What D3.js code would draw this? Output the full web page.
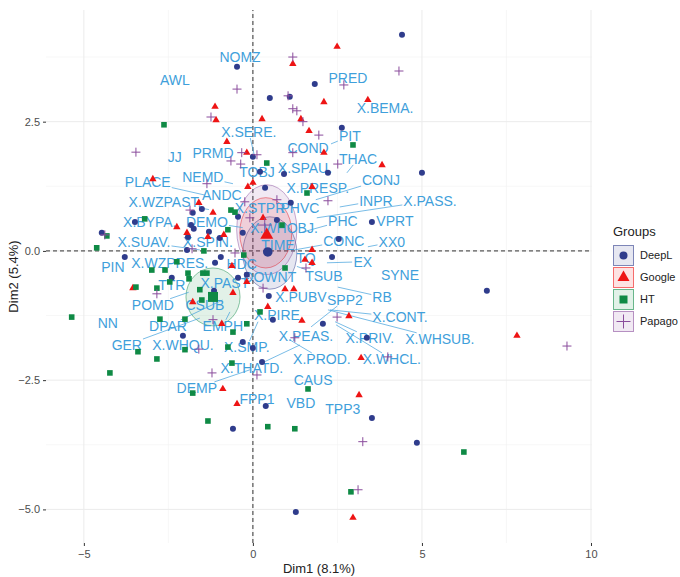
<!DOCTYPE html>
<html>
<head>
<meta charset="utf-8">
<script src="https://cdn.jsdelivr.net/npm/d3@7"></script>
<style>
body { margin: 0; background: #fff; }
text { font-family: "Liberation Sans", Arial, sans-serif; }
</style>
</head>
<body>
<div id="chart"></div>
<script>
// groups and their colours
var groups = ["DeepL", "Google", "HT", "Papago"];
var groupColors = ["#2f3c8c", "#ee1414", "#0f8a45", "#8a4c9c"];

// individuals (Dim1, Dim2)
var deeplPoints = [
  [-0.47, 3.56], [0.50, 2.96], [1.09, 2.98], [4.41, 4.18], [1.83, 3.23], [2.63, 2.38],
  [0.00, 1.82], [0.21, 1.53], [0.92, 1.49], [2.22, 1.51], [5.00, 1.51], [0.36, 1.22],
  [1.12, 0.93], [3.52, 0.56], [2.54, 0.23], [2.34, -0.12], [-1.78, 0.74], [-1.51, 0.81],
  [-3.49, 0.56], [-1.83, 0.50], [-1.75, 0.43], [-1.30, 0.37], [-4.47, 0.35], [-1.92, 0.27],
  [-0.98, 0.25], [-0.95, -0.12], [-3.79, -0.12], [-1.12, -0.23], [-0.44, -0.52], [-0.18, -0.46],
  [-2.40, -0.52], [-1.15, -0.77], [0.47, -0.87], [0.59, -1.33], [-2.07, -1.64], [-0.30, -1.76],
  [0.00, -1.88], [0.27, -2.15], [0.38, -3.00], [-0.59, -3.44], [1.27, -5.05], [3.37, -1.68],
  [3.52, -3.23], [4.85, -3.71], [6.92, -0.77], [2.07, -1.41], [-0.44, 0.66], [-0.30, 0.35],
  [0.71, 0.60], [-1.95, 0.02]
];
var googlePoints = [
  [1.18, 3.62], [2.49, 3.95], [-1.12, 2.79], [-1.09, 2.53], [0.27, 2.55], [1.42, 2.55],
  [2.10, 2.88], [3.40, 2.92], [1.66, 2.32], [-0.77, 2.11], [-0.18, 1.90], [2.10, 1.90],
  [3.82, 1.66], [-2.96, 1.39], [-0.15, 1.24], [0.00, 1.32], [1.75, 1.24], [-1.60, 0.93],
  [-1.18, 0.74], [-2.25, 0.46], [-0.86, 0.31], [-1.33, 0.27], [-1.95, 0.35], [0.30, 0.64],
  [1.75, 0.02], [1.54, -0.17], [1.75, -0.23], [-0.62, -0.29], [-0.18, -0.60], [0.95, -0.74],
  [1.21, -0.74], [-3.55, -0.72], [-0.59, -0.81], [-1.78, -0.99], [0.44, -1.08], [-0.92, -1.41],
  [1.45, -1.35], [2.84, -1.26], [7.81, -1.64], [3.20, -2.07], [-0.89, -2.67], [-0.47, -2.96],
  [3.14, -2.79], [2.96, -5.16]
];
var htPoints = [
  [-2.63, 2.44], [0.41, 1.70], [2.96, 2.05], [1.60, 1.12], [-0.65, 0.79], [-0.53, 0.75],
  [-3.20, 0.62], [-4.32, 0.29], [-0.74, 0.41], [-4.62, 0.06], [-1.45, 0.00], [-0.27, -0.08],
  [-2.25, -0.21], [-2.99, -0.37], [-2.60, -0.37], [-1.92, -0.43], [-1.48, -0.43], [-1.36, -0.43],
  [0.95, -0.33], [-2.46, -0.60], [-1.89, -0.54], [-3.46, -0.70], [-2.84, -0.72], [-1.57, -0.75],
  [-1.51, -0.95], [-5.36, -1.28], [-2.75, -1.32], [-2.01, -1.32], [0.21, -1.18], [-0.18, -1.41],
  [-0.59, -1.57], [-3.40, -1.95], [-2.01, -1.91], [-0.74, -1.86], [-2.84, -2.09], [-4.23, -2.36],
  [-0.62, -2.17], [-1.78, -2.75], [1.63, -2.67], [-1.33, -3.29], [0.44, -3.40], [1.24, -3.44],
  [2.90, -4.66], [6.24, -3.89], [0.86, 0.50]
];
var papagoPoints = [
  [1.18, 3.75], [-0.47, 3.13], [1.04, 3.00], [4.32, 3.48], [2.69, 3.21], [-1.24, 2.59],
  [1.18, 2.75], [1.30, 2.71], [1.48, 2.50], [1.95, 2.24], [-3.46, 1.91], [-0.33, 1.90],
  [0.12, 1.86], [-0.65, 1.74], [-0.36, 1.68], [1.18, 1.90], [2.51, 1.68], [-1.36, 1.30],
  [2.22, 0.97], [-1.86, 0.79], [-0.24, 0.95], [0.71, 0.99], [-0.09, 0.64], [-4.38, 0.31],
  [-1.80, 0.04], [-0.53, -0.04], [1.57, -0.33], [0.30, -0.72], [-2.84, -0.83], [-1.18, -1.33],
  [2.49, -1.28], [1.24, -1.68], [-1.60, -1.90], [-1.21, -2.36], [0.12, -2.40], [3.99, -2.05],
  [9.29, -1.84], [3.25, -3.69], [3.11, -4.62]
];

// group centres and confidence ellipses: [cx, cy, rx, ry]
var groupMeans = [[0.44, -0.02], [0.41, 0.31], [-1.18, -0.89], [0.35, 0.50]];
var groupEllipses = [
  [0.50, -0.04, 0.80, 0.70],
  [0.38, 0.35, 0.77, 0.68],
  [-1.18, -0.89, 0.80, 0.56],
  [0.41, 0.41, 0.89, 0.87]
];

// variable labels: name, label x, label y, (point x, point y for the connector)
var varLabels = [
  ["NOMZ", -0.38, 3.75], ["AWL", -2.31, 3.31], ["PRED", 2.81, 3.35], ["X.BEMA.", 3.91, 2.77],
  ["X.SERE.", -0.12, 2.30, 0.06, 1.80], ["PIT", 2.87, 2.22, 2.31, 2.07], ["COND", 1.63, 1.99],
  ["PRMD", -1.18, 1.90], ["JJ", -2.31, 1.82], ["THAC", 3.11, 1.78, 2.78, 1.51],
  ["X.SPAU.", 1.54, 1.61], ["TOBJ", 0.12, 1.53], ["NEMD", -1.48, 1.43, -0.59, 1.30],
  ["PLACE", -3.11, 1.33, -1.42, 1.08], ["CONJ", 3.79, 1.37, 1.86, 0.99], ["X.PRESP.", 1.92, 1.22],
  ["ANDC", -0.92, 1.08], ["X.WZPAST.", -2.60, 0.95, -1.30, 0.80], ["INPR", 3.64, 0.97, 2.57, 0.85],
  ["X.PASS.", 5.24, 0.97, 1.89, 0.64], ["X.STPR", 0.21, 0.83], ["PHVC", 1.39, 0.83],
  ["X.BYPA.", -3.05, 0.56], ["DEMO", -1.36, 0.56, -0.30, 0.45], ["PHC", 2.66, 0.58, 1.39, 0.35],
  ["VPRT", 4.20, 0.58], ["X.WHOBJ.", 0.92, 0.44], ["X.SUAV.", -3.22, 0.17, -1.57, 0.02],
  ["X.SPIN.", -1.33, 0.17], ["CONC", 2.69, 0.19, 1.24, 0.02], ["XX0", 4.11, 0.17, 3.40, 0.08],
  ["TIME", 0.74, 0.12], ["TQ", 1.57, -0.14], ["EX", 3.25, -0.21, 2.19, -0.23],
  ["X.WZPRES.", -2.46, -0.23], ["HDC", -0.33, -0.25], ["PIN", -4.14, -0.31], ["SYNE", 4.35, -0.46],
  ["TSUB", 2.10, -0.48, 1.30, -0.30], ["DOWNT", 0.50, -0.50], ["X.PAST", -0.83, -0.62],
  ["TTR", -2.40, -0.66], ["X.PUBV", 1.42, -0.89], ["RB", 3.82, -0.89, 2.51, -0.70],
  ["SPP2", 2.72, -0.95, 1.72, -1.47], ["POMD", -2.96, -1.04, -1.90, -0.80], ["CSUB", -1.42, -1.04],
  ["X.PIRE", 0.71, -1.24], ["X.CONT.", 4.35, -1.28, 2.28, -1.14], ["NN", -4.29, -1.39],
  ["DPAR", -2.51, -1.45, -0.90, -0.95], ["EMPH", -0.89, -1.45, -0.68, -1.18], ["X.PEAS.", 1.57, -1.64],
  ["X.PRIV.", 3.46, -1.68, 2.43, -1.37], ["X.WHSUB.", 5.53, -1.70, 2.22, -1.14],
  ["GER", -3.73, -1.82, -1.57, -1.30], ["X.WHQU.", -2.07, -1.82], ["X.SMP.", -0.18, -1.86, 0.15, -1.37],
  ["X.PROD.", 2.04, -2.09, 1.09, -1.72], ["X.WHCL.", 4.11, -2.09, 2.46, -1.43],
  ["X.THATD.", -0.03, -2.26, 1.39, -1.82], ["DEMP", -1.66, -2.65, -0.09, -2.30],
  ["CAUS", 1.78, -2.50], ["FPP1", 0.12, -2.86], ["VBD", 1.42, -2.94], ["TPP3", 2.66, -3.06]
];

var xMajor = [-5, 0, 5, 10], xMinor = [-2.5, 2.5, 7.5];
var yMajor = [-5, -2.5, 0, 2.5], yMinor = [-3.75, -1.25, 1.25, 3.75];

var width = 680, height = 577;
var margin = { top: 10, right: 88, bottom: 34, left: 46 };
var labelColor = "#3f9fdb";

var svg = d3.select("#chart").append("svg")
  .attr("width", width)
  .attr("height", height);

var x = d3.scaleLinear().domain([-6.12, 10.03]).range([margin.left, width - margin.right]);
var y = d3.scaleLinear().domain([-5.65, 4.66]).range([height - margin.bottom, margin.top]);

// grid
var grid = svg.append("g");
grid.selectAll(".xmin").data(xMinor).enter().append("line")
  .attr("x1", x).attr("x2", x).attr("y1", y.range()[0]).attr("y2", y.range()[1])
  .style("stroke", "#f2f2f2").style("stroke-width", 0.6);
grid.selectAll(".ymin").data(yMinor).enter().append("line")
  .attr("y1", y).attr("y2", y).attr("x1", x.range()[0]).attr("x2", x.range()[1])
  .style("stroke", "#f2f2f2").style("stroke-width", 0.6);
grid.selectAll(".xmaj").data(xMajor).enter().append("line")
  .attr("x1", x).attr("x2", x).attr("y1", y.range()[0]).attr("y2", y.range()[1])
  .style("stroke", "#ebebeb").style("stroke-width", 1);
grid.selectAll(".ymaj").data(yMajor).enter().append("line")
  .attr("y1", y).attr("y2", y).attr("x1", x.range()[0]).attr("x2", x.range()[1])
  .style("stroke", "#ebebeb").style("stroke-width", 1);

// axes
var xAxis = svg.append("g")
  .attr("transform", "translate(0," + (height - margin.bottom) + ")")
  .call(d3.axisBottom(x).tickValues(xMajor).tickSize(3).tickPadding(4));
var yAxis = svg.append("g")
  .attr("transform", "translate(" + margin.left + ",0)")
  .call(d3.axisLeft(y).tickValues(yMajor).tickFormat(d3.format(".1f")).tickSize(3).tickPadding(3));
[xAxis, yAxis].forEach(function (a) {
  a.select(".domain").remove();
  a.selectAll(".tick line").style("stroke", "#333");
  a.selectAll(".tick text").style("fill", "#4d4d4d").style("font-size", "11px")
    .style("font-family", "'Liberation Sans', Arial, sans-serif");
});

// dashed reference lines
svg.append("line")
  .attr("x1", x.range()[0]).attr("x2", x.range()[1]).attr("y1", y(0)).attr("y2", y(0))
  .style("stroke", "#000").style("stroke-dasharray", "4,3").style("stroke-width", 0.8);
svg.append("line")
  .attr("x1", x(0)).attr("x2", x(0)).attr("y1", y.range()[0]).attr("y2", y.range()[1])
  .style("stroke", "#000").style("stroke-dasharray", "4,3").style("stroke-width", 0.8);

// ellipses
svg.append("g").selectAll("ellipse").data(groupEllipses).enter().append("ellipse")
  .attr("cx", function (d) { return x(d[0]); })
  .attr("cy", function (d) { return y(d[1]); })
  .attr("rx", function (d) { return x(d[2]) - x(0); })
  .attr("ry", function (d) { return y(0) - y(d[3]); })
  .style("fill", function (d, i) { return groupColors[i]; })
  .style("fill-opacity", 0.12)
  .style("stroke", function (d, i) { return groupColors[i]; })
  .style("stroke-opacity", 0.6)
  .style("stroke-width", 0.8);

// variable labels with connectors
var labG = svg.append("g");
varLabels.forEach(function (v) {
  var t = labG.append("text")
    .attr("x", x(v[1])).attr("y", y(v[2]))
    .attr("dy", "0.35em")
    .style("text-anchor", "middle")
    .style("font-size", "14px")
    .style("fill", labelColor)
    .text(v[0]);
  if (v.length > 3) {
    var bb = t.node().getBBox();
    var cx = x(v[1]), cy = y(v[2]);
    var px = x(v[3]), py = y(v[4]);
    var dx = px - cx, dy = py - cy;
    var hw = bb.width / 2 + 1, hh = bb.height / 2 - 2;
    var s = Math.min(dx ? hw / Math.abs(dx) : Infinity, dy ? hh / Math.abs(dy) : Infinity);
    if (s < 1) {
      labG.append("line")
        .attr("x1", cx + dx * s).attr("y1", cy + dy * s)
        .attr("x2", px).attr("y2", py)
        .style("stroke", labelColor).style("stroke-width", 0.7);
    }
  }
});

// point shapes: 0 circle, 1 triangle, 2 square, 3 plus; size ~ half width in px
function drawMark(g, shape, cx, cy, size, color) {
  if (shape === 3) {
    g.append("path")
      .attr("d", "M" + (cx - size) + "," + cy + "H" + (cx + size) + "M" + cx + "," + (cy - size) + "V" + (cy + size))
      .style("stroke", color).style("stroke-width", 1).style("fill", "none");
    return;
  }
  var sym = [d3.symbolCircle, d3.symbolTriangle, d3.symbolSquare][shape];
  var s = 2 * size;
  var area = [Math.PI * size * size, Math.sqrt(3) / 4 * s * s, s * s][shape];
  g.append("path")
    .attr("transform", "translate(" + cx + "," + cy + ")")
    .attr("d", d3.symbol().type(sym).size(area)())
    .style("fill", color);
}

var ptG = svg.append("g");
[deeplPoints, googlePoints, htPoints, papagoPoints].forEach(function (pts, gi) {
  var sz = [3, 3.7, 2.8, 4.5][gi];
  pts.forEach(function (p) {
    drawMark(ptG, gi, x(p[0]), y(p[1]), sz, groupColors[gi]);
  });
});
groupMeans.forEach(function (p, gi) {
  var sz = [4.8, 6.5, 5, 7][gi];
  drawMark(ptG, gi, x(p[0]), y(p[1]), sz, groupColors[gi]);
});

// axis titles
svg.append("text")
  .attr("x", (x.range()[0] + x.range()[1]) / 2).attr("y", 573)
  .style("text-anchor", "middle").style("font-size", "13px").style("fill", "#222")
  .text("Dim1 (8.1%)");
svg.append("text")
  .attr("transform", "translate(18," + ((y.range()[0] + y.range()[1]) / 2) + ") rotate(-90)")
  .style("text-anchor", "middle").style("font-size", "13px").style("fill", "#222")
  .text("Dim2 (5.4%)");

// legend
var leg = svg.append("g").attr("transform", "translate(613,226)");
leg.append("text").attr("x", 0).attr("y", 10)
  .style("font-size", "13px").style("fill", "#222").text("Groups");
groups.forEach(function (name, i) {
  var ky = 19 + i * 22;
  leg.append("rect")
    .attr("x", 0.5).attr("y", ky + 0.5).attr("width", 20).attr("height", 20)
    .style("fill", groupColors[i]).style("fill-opacity", 0.12)
    .style("stroke", groupColors[i]).style("stroke-opacity", 0.6);
  drawMark(leg, i, 10.5, ky + 10.5, [4, 6, 4, 7][i], groupColors[i]);
  leg.append("text").attr("x", 27).attr("y", ky + 14)
    .style("font-size", "11px").style("fill", "#222").text(name);
});
</script>
</body>
</html>
